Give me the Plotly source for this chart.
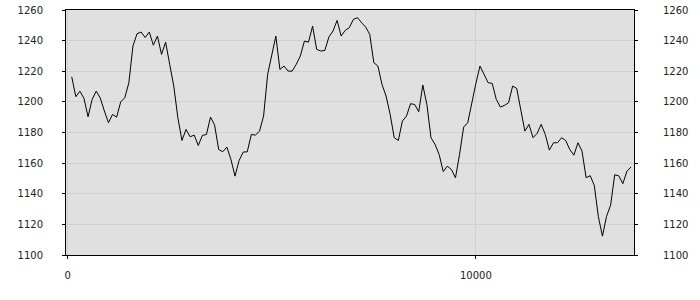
import plotly.graph_objects as go

# x positions (sample index * 100)
x_vals = list(range(100, 13900, 100))

y_vals = [
    1216.4, 1203.4, 1207.0, 1202.3, 1190.3, 1201.6, 1207.0, 1202.5, 1194.0, 1186.4,
    1191.8, 1190.0, 1200.0, 1202.7, 1212.5, 1236.5, 1244.5, 1245.6, 1242.0, 1245.6,
    1237.0, 1243.0, 1231.0, 1239.0, 1224.5, 1210.3, 1189.6, 1174.8, 1182.0, 1177.2,
    1178.3, 1171.5, 1178.1, 1178.7, 1190.1, 1184.8, 1168.9, 1167.4, 1170.5, 1162.4,
    1151.5, 1161.7, 1167.2, 1167.4, 1178.7, 1178.3, 1180.9, 1190.7, 1218.0, 1231.0,
    1243.0, 1221.2, 1223.4, 1220.1, 1220.1, 1224.5, 1230.0, 1239.7, 1239.0, 1249.5,
    1234.3, 1233.2, 1233.6, 1242.4, 1246.3, 1253.2, 1243.0, 1246.7, 1248.5, 1253.9,
    1255.0, 1251.7, 1248.9, 1244.1, 1225.6, 1223.4, 1211.4, 1203.8, 1191.8, 1176.6,
    1174.8, 1187.5, 1190.7, 1198.8, 1198.3, 1193.6, 1211.0, 1198.3, 1176.6, 1172.2,
    1165.7, 1154.5, 1158.0, 1155.9, 1150.4, 1165.7, 1183.5, 1186.4, 1200.5, 1212.0,
    1223.4, 1218.0, 1212.5, 1212.1, 1201.6, 1196.6, 1197.7, 1199.4, 1210.3, 1208.8,
    1195.0, 1180.9, 1185.3, 1176.6, 1179.4, 1185.3, 1178.7, 1168.5, 1173.3, 1173.3,
    1176.6, 1174.8, 1168.9, 1165.2, 1173.3, 1167.8, 1150.4, 1151.8, 1145.5, 1125.0,
    1112.3, 1125.2, 1132.5, 1152.4, 1151.7, 1146.6, 1154.7, 1157.5,
]

x_tick_vals = [0, 10000]
x_tick_text = ["0", "10000"]
y_tick_vals = [1100, 1120, 1140, 1160, 1180, 1200, 1220, 1240, 1260]

X_RANGE = [-40, 13873]
Y_RANGE = [1100, 1260]

fig = go.Figure()
fig.add_trace(go.Scatter(
    x=x_vals, y=y_vals, mode="lines",
    line=dict(color="black", width=1),
    hoverinfo="skip", showlegend=False,
))
# invisible copy to anchor the right-hand axis
fig.add_trace(go.Scatter(
    x=x_vals, y=y_vals, mode="lines", yaxis="y2",
    line=dict(color="rgba(0,0,0,0)", width=1),
    hoverinfo="skip", showlegend=False,
))

tick_font = dict(family="DejaVu Sans", size=10, color="#222222")

fig.update_layout(
    width=700, height=300,
    margin=dict(l=66, r=66, t=10, b=45, autoexpand=False),
    paper_bgcolor="white",
    plot_bgcolor="#e0e0e0",
    xaxis=dict(
        range=X_RANGE, tickvals=x_tick_vals, ticktext=x_tick_text,
        showgrid=True, gridcolor="#d0d0d0", gridwidth=1,
        zeroline=False, showline=True, linecolor="black", linewidth=1,
        mirror=True, ticks="outside", ticklen=3, tickcolor="black",
        tickfont=tick_font, ticklabelstandoff=8, automargin=False,
    ),
    yaxis=dict(
        range=Y_RANGE, tickvals=y_tick_vals,
        showgrid=True, gridcolor="#d0d0d0", gridwidth=1,
        zeroline=False, showline=True, linecolor="black", linewidth=1,
        mirror=True, ticks="outside", ticklen=3, tickcolor="black",
        tickfont=tick_font, ticklabelstandoff=17, automargin=False,
    ),
    yaxis2=dict(
        range=Y_RANGE, tickvals=y_tick_vals, overlaying="y", side="right",
        showgrid=False, zeroline=False, showline=False,
        ticks="outside", ticklen=3, tickcolor="black",
        tickfont=tick_font, ticklabelstandoff=23, automargin=False,
    ),
)

fig.write_html("out.html")
